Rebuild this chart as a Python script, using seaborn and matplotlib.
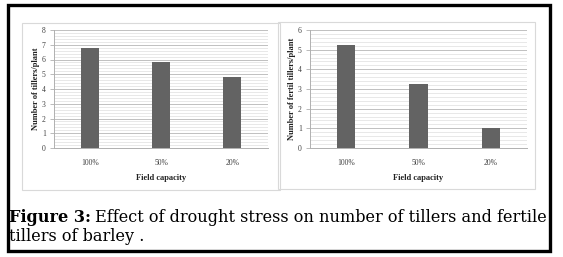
import matplotlib
matplotlib.use("Agg")
import matplotlib.pyplot as plt
import seaborn as sns
import pandas as pd
import numpy as np
from matplotlib.patches import Rectangle

sns.set_theme(style="white")
plt.rcParams['font.family'] = ['Liberation Serif', 'DejaVu Serif']

categories = ["100%", "50%", "20%"]
tillers = [6.8, 5.85, 4.82]
fertile_tillers = [5.25, 3.27, 1.0]
ylabel_left = "Number of tillers/plant"
ylabel_right = "Number of fertil tillers/plant"
xlabel = "Field capacity"

W, H = 563, 257
fig = plt.figure(figsize=(W / 100, H / 100), dpi=100)

def fx(x):
    return x / W

def fy(y):
    return 1 - y / H

# outer black border
fig.patches.append(Rectangle((fx(8), fy(251)), fx(550) - fx(8), fy(5) - fy(251),
                             transform=fig.transFigure, fill=False,
                             edgecolor="black", linewidth=2.4, zorder=0))
# panel borders
for (x0, y0, x1, y1) in [(22, 23, 280, 190), (278, 22, 535, 189)]:
    fig.patches.append(Rectangle((fx(x0), fy(y1)), fx(x1) - fx(x0), fy(y0) - fy(y1),
                                 transform=fig.transFigure, fill=False,
                                 edgecolor="#d9d9d9", linewidth=0.8, zorder=0))


def panel(rect_px, values, ymax, ylabel, ylab_x):
    x0, y0, x1, y1 = rect_px
    ax = fig.add_axes([fx(x0), fy(y1), fx(x1) - fx(x0), fy(y0) - fy(y1)])
    df = pd.DataFrame({"cat": categories, "val": values})
    sns.barplot(data=df, x="cat", y="val", ax=ax, color="#636363", width=0.25,
                saturation=1, edgecolor="none", zorder=3)
    ax.set_ylim(0, ymax)
    ax.set_xlim(-0.5, 2.5)
    ax.set_yticks(np.arange(0, ymax + 1))
    ax.set_yticks(np.arange(0, ymax + 0.01, 0.2), minor=True)
    ax.yaxis.grid(True, which="major", color="#c0c0c0", linewidth=0.7, zorder=0)
    ax.yaxis.grid(True, which="minor", color="#dedede", linewidth=0.5, zorder=0)
    ax.set_axisbelow(True)
    for s in ["top", "right"]:
        ax.spines[s].set_visible(False)
    ax.spines["left"].set_color("#b0b0b0")
    ax.spines["bottom"].set_color("#b0b0b0")
    ax.spines["left"].set_linewidth(0.7)
    ax.spines["bottom"].set_linewidth(0.7)
    ax.tick_params(axis="y", which="major", length=3, width=0.6, color="#b0b0b0",
                   labelsize=5.5, labelcolor="#404040", pad=3, left=True)
    ax.tick_params(axis="y", which="minor", length=0)
    ax.tick_params(axis="x", length=0, labelsize=5.5, labelcolor="#404040", pad=8)
    ax.set_xlabel(xlabel, fontsize=6, fontweight="bold", color="#202020", labelpad=5)
    ax.set_ylabel("")
    fig.text(fx(ylab_x), fy((y0 + y1) / 2), ylabel, rotation=90, fontsize=6,
             fontweight="bold", color="#202020", ha="center", va="center")
    ax.set_facecolor("none")
    return ax

panel((54, 30, 268, 148), tillers, 8, ylabel_left, 36)
panel((310, 30, 527, 148), fertile_tillers, 6, ylabel_right, 292)

# caption, fitted so the first line spans the same width as the reference
fig.canvas.draw()
renderer = fig.canvas.get_renderer()
cap_family = ['DejaVu Serif']
base = 10.0
t1 = fig.text(fx(9), fy(222), "Figure 3:", fontsize=base, fontweight="bold",
              family=cap_family, color="black", ha="left", va="baseline")
t2 = fig.text(0, fy(222), "Effect of drought stress on number of tillers and fertile",
              fontsize=base, family=cap_family, color="black", ha="left", va="baseline")
gap = 4
w1 = t1.get_window_extent(renderer=renderer).width
w2 = t2.get_window_extent(renderer=renderer).width
target = 549 - 9 - gap
scale = target / (w1 + w2)
size = base * scale
t1.set_fontsize(size)
t2.set_fontsize(size)
fig.canvas.draw()
bb = t1.get_window_extent(renderer=renderer)
t2.set_x(bb.x1 / W + fx(gap))
fig.text(fx(9), fy(241), "tillers of barley .", fontsize=size, family=cap_family,
         color="black", ha="left", va="baseline")

fig.savefig("out.png", dpi=100)
